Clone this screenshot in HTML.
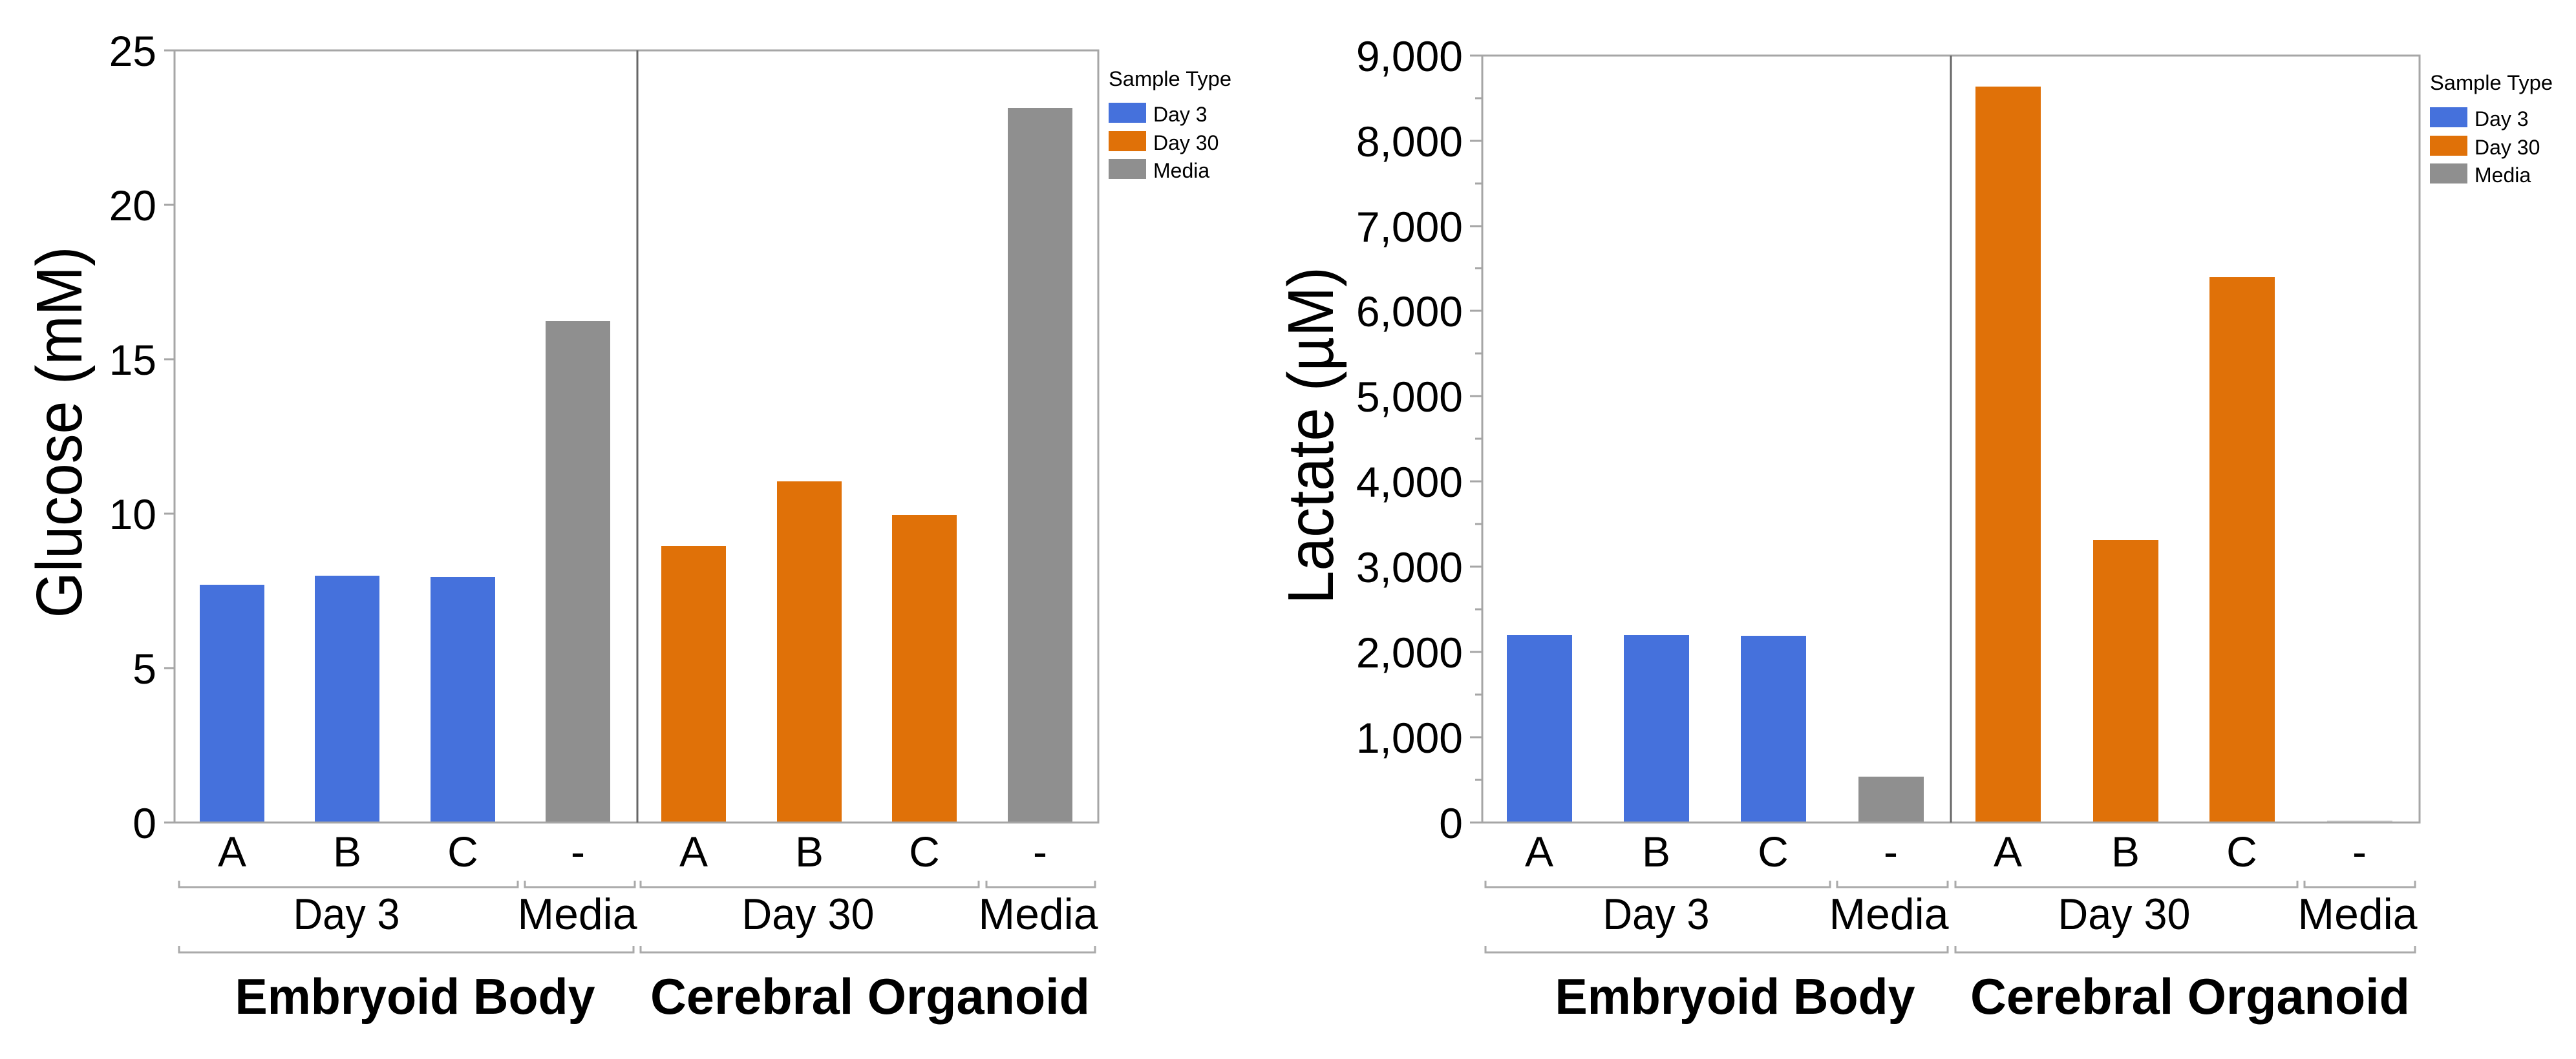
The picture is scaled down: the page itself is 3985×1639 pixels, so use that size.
<!DOCTYPE html>
<html><head><meta charset="utf-8"><style>
html,body{margin:0;padding:0;background:#fff;}
svg{display:block;}
text{font-family:"Liberation Sans",sans-serif;fill:#000;}
</style></head><body>
<svg width="3985" height="1639" viewBox="0 0 3985 1639" xmlns="http://www.w3.org/2000/svg">
<rect width="3985" height="1639" fill="#fff"/>
<!-- LEFT CHART -->
<g>
<rect x="309" y="905" width="100" height="368" fill="#4571DC"/>
<rect x="487" y="891" width="100" height="382" fill="#4571DC"/>
<rect x="666" y="893" width="100" height="380" fill="#4571DC"/>
<rect x="844" y="497" width="100" height="776" fill="#8F8F8F"/>
<rect x="1023" y="845" width="100" height="428" fill="#E07108"/>
<rect x="1202" y="745" width="100" height="528" fill="#E07108"/>
<rect x="1380" y="797" width="100" height="476" fill="#E07108"/>
<rect x="1559" y="167" width="100" height="1106" fill="#8F8F8F"/>
<rect x="270" y="78" width="1429" height="1195" fill="none" stroke="#a6a6a6" stroke-width="3"/>
<line x1="986" y1="78" x2="986" y2="1273" stroke="#666" stroke-width="3"/>
<g stroke="#a6a6a6" stroke-width="3">
<line x1="254" y1="1273" x2="270" y2="1273"/><line x1="254" y1="1034" x2="270" y2="1034"/>
<line x1="254" y1="795" x2="270" y2="795"/><line x1="254" y1="556" x2="270" y2="556"/>
<line x1="254" y1="317" x2="270" y2="317"/><line x1="254" y1="78" x2="270" y2="78"/>
</g>
<g font-size="66" text-anchor="end">
<text x="242" y="1297">0</text><text x="242" y="1058">5</text><text x="242" y="819">10</text>
<text x="242" y="580">15</text><text x="242" y="341">20</text><text x="242" y="102">25</text>
</g>
<text transform="translate(126,669) rotate(-90)" font-size="100" text-anchor="middle" textLength="575" lengthAdjust="spacingAndGlyphs">Glucose (mM)</text>
<g font-size="66" text-anchor="middle">
<text x="359" y="1341">A</text><text x="537" y="1341">B</text><text x="716" y="1341">C</text><text x="894" y="1341">-</text>
<text x="1073" y="1341">A</text><text x="1252" y="1341">B</text><text x="1430" y="1341">C</text><text x="1609" y="1341">-</text>
</g>
<g stroke="#aaa" stroke-width="3" fill="none">
<path d="M277 1363V1373H801V1363"/><path d="M812 1363V1373H982V1363"/>
<path d="M991 1363V1373H1514V1363"/><path d="M1526 1363V1373H1694V1363"/>
<path d="M277 1464V1474H980V1464"/><path d="M991 1464V1474H1694V1464"/>
</g>
<g font-size="68" text-anchor="middle">
<text x="536" y="1438" textLength="165" lengthAdjust="spacingAndGlyphs">Day 3</text>
<text x="893" y="1438" textLength="185" lengthAdjust="spacingAndGlyphs">Media</text>
<text x="1250" y="1438" textLength="205" lengthAdjust="spacingAndGlyphs">Day 30</text>
<text x="1606" y="1438" textLength="185" lengthAdjust="spacingAndGlyphs">Media</text>
</g>
<g font-size="78" font-weight="bold" text-anchor="middle">
<text x="642" y="1569" textLength="557" lengthAdjust="spacingAndGlyphs">Embryoid Body</text>
<text x="1346" y="1569" textLength="680" lengthAdjust="spacingAndGlyphs">Cerebral Organoid</text>
</g>
<text x="1715" y="133" font-size="32" textLength="190" lengthAdjust="spacingAndGlyphs">Sample Type</text>
<rect x="1715" y="159" width="58" height="31" fill="#4571DC"/>
<rect x="1715" y="203" width="58" height="31" fill="#E07108"/>
<rect x="1715" y="246" width="58" height="31" fill="#8F8F8F"/>
<g font-size="32"><text x="1784" y="188">Day 3</text><text x="1784" y="232">Day 30</text><text x="1784" y="275">Media</text></g>
</g>
<!-- RIGHT CHART -->
<g>
<rect x="2331" y="983" width="101" height="290" fill="#4571DC"/>
<rect x="2512" y="983" width="101" height="290" fill="#4571DC"/>
<rect x="2693" y="984" width="101" height="289" fill="#4571DC"/>
<rect x="2875" y="1202" width="101" height="71" fill="#8F8F8F"/>
<rect x="3056" y="134" width="101" height="1139" fill="#E07108"/>
<rect x="3238" y="836" width="101" height="437" fill="#E07108"/>
<rect x="3418" y="429" width="101" height="844" fill="#E07108"/>
<rect x="3600" y="1270" width="101" height="3" fill="#cfcfcf"/>
<rect x="2293" y="86" width="1450" height="1187" fill="none" stroke="#a6a6a6" stroke-width="3"/>
<line x1="3018" y1="86" x2="3018" y2="1273" stroke="#666" stroke-width="3"/>
<g stroke="#a6a6a6" stroke-width="3">
<line x1="2274" y1="1273" x2="2293" y2="1273"/><line x1="2282" y1="1207" x2="2293" y2="1207"/>
<line x1="2274" y1="1141" x2="2293" y2="1141"/><line x1="2282" y1="1075" x2="2293" y2="1075"/>
<line x1="2274" y1="1009" x2="2293" y2="1009"/><line x1="2282" y1="943" x2="2293" y2="943"/>
<line x1="2274" y1="877" x2="2293" y2="877"/><line x1="2282" y1="811" x2="2293" y2="811"/>
<line x1="2274" y1="745" x2="2293" y2="745"/><line x1="2282" y1="679" x2="2293" y2="679"/>
<line x1="2274" y1="613" x2="2293" y2="613"/><line x1="2282" y1="547" x2="2293" y2="547"/>
<line x1="2274" y1="481" x2="2293" y2="481"/><line x1="2282" y1="415" x2="2293" y2="415"/>
<line x1="2274" y1="350" x2="2293" y2="350"/><line x1="2282" y1="284" x2="2293" y2="284"/>
<line x1="2274" y1="218" x2="2293" y2="218"/><line x1="2282" y1="152" x2="2293" y2="152"/>
<line x1="2274" y1="86" x2="2293" y2="86"/>
</g>
<g font-size="66" text-anchor="end">
<text x="2263" y="1297">0</text><text x="2263" y="1165">1,000</text><text x="2263" y="1033">2,000</text>
<text x="2263" y="901">3,000</text><text x="2263" y="769">4,000</text><text x="2263" y="637">5,000</text>
<text x="2263" y="505">6,000</text><text x="2263" y="374">7,000</text><text x="2263" y="242">8,000</text>
<text x="2263" y="110">9,000</text>
</g>
<text transform="translate(2062,674) rotate(-90)" font-size="100" text-anchor="middle" textLength="522" lengthAdjust="spacingAndGlyphs">Lactate (µM)</text>
<g font-size="66" text-anchor="middle">
<text x="2381" y="1341">A</text><text x="2562" y="1341">B</text><text x="2743" y="1341">C</text><text x="2925" y="1341">-</text>
<text x="3106" y="1341">A</text><text x="3288" y="1341">B</text><text x="3468" y="1341">C</text><text x="3650" y="1341">-</text>
</g>
<g stroke="#aaa" stroke-width="3" fill="none">
<path d="M2298 1363V1373H2831V1363"/><path d="M2842 1363V1373H3013V1363"/>
<path d="M3025 1363V1373H3554V1363"/><path d="M3565 1363V1373H3736V1363"/>
<path d="M2298 1464V1474H3013V1464"/><path d="M3025 1464V1474H3736V1464"/>
</g>
<g font-size="68" text-anchor="middle">
<text x="2562" y="1438" textLength="165" lengthAdjust="spacingAndGlyphs">Day 3</text>
<text x="2922" y="1438" textLength="185" lengthAdjust="spacingAndGlyphs">Media</text>
<text x="3286" y="1438" textLength="205" lengthAdjust="spacingAndGlyphs">Day 30</text>
<text x="3647" y="1438" textLength="185" lengthAdjust="spacingAndGlyphs">Media</text>
</g>
<g font-size="78" font-weight="bold" text-anchor="middle">
<text x="2684" y="1569" textLength="557" lengthAdjust="spacingAndGlyphs">Embryoid Body</text>
<text x="3388" y="1569" textLength="680" lengthAdjust="spacingAndGlyphs">Cerebral Organoid</text>
</g>
<text x="3759" y="139" font-size="32" textLength="190" lengthAdjust="spacingAndGlyphs">Sample Type</text>
<rect x="3759" y="166" width="58" height="31" fill="#4571DC"/>
<rect x="3759" y="210" width="58" height="31" fill="#E07108"/>
<rect x="3759" y="253" width="58" height="31" fill="#8F8F8F"/>
<g font-size="32"><text x="3828" y="195">Day 3</text><text x="3828" y="239">Day 30</text><text x="3828" y="282">Media</text></g>
</g>
</svg>
</body></html>
